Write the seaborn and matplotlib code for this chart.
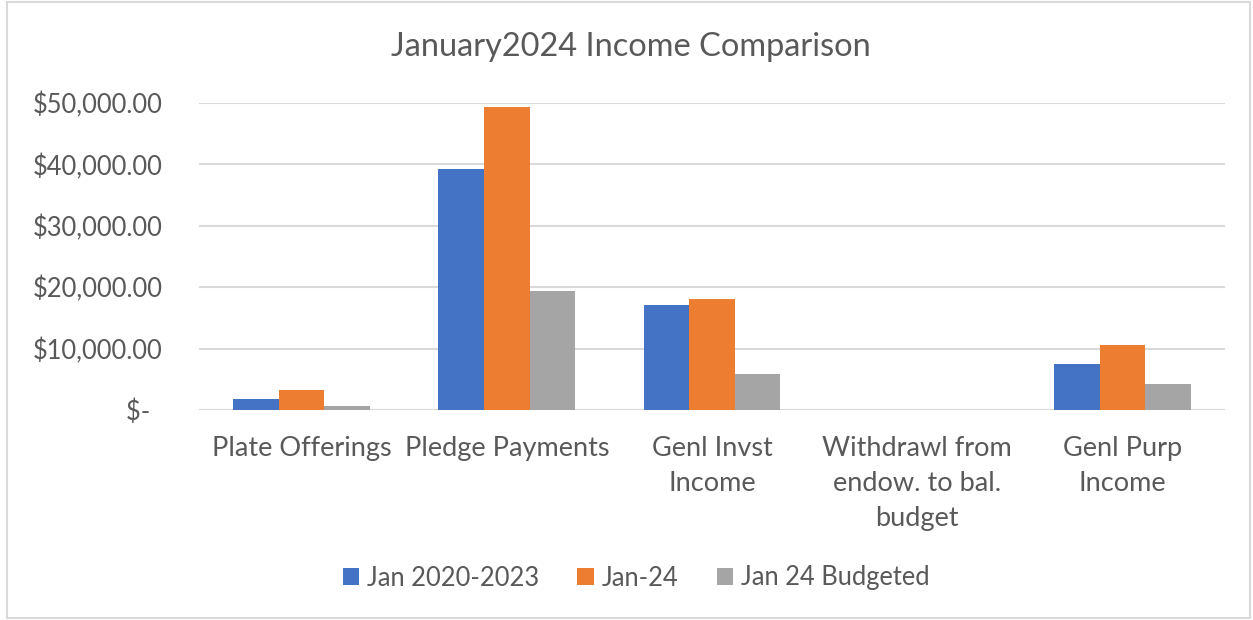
import matplotlib
matplotlib.use("Agg")
import matplotlib.pyplot as plt
import seaborn as sns
import pandas as pd
from matplotlib.patches import Rectangle, Patch

categories = ["Plate Offerings", "Pledge Payments", "Genl Invst\nIncome",
              "Withdrawl from\nendow. to bal.\nbudget", "Genl Purp\nIncome"]
series_names = ["Jan 2020-2023", "Jan-24", "Jan 24 Budgeted"]
jan_2020_2023 = [1790, 39200, 17070, 0, 7500]
jan_24 = [3200, 49350, 18050, 0, 10550]
jan_24_budgeted = [710, 19330, 5930, 0, 4300]
ytick_values = [0, 10000, 20000, 30000, 40000, 50000]
ytick_labels = ["$-  ", "$10,000.00", "$20,000.00", "$30,000.00", "$40,000.00", "$50,000.00"]
title = "January2024 Income Comparison"
colors = ["#4472C4", "#ED7D31", "#A5A5A5"]

rows = []
for name, vals in zip(series_names, [jan_2020_2023, jan_24, jan_24_budgeted]):
    for c, v in zip(categories, vals):
        rows.append({"category": c, "series": name, "value": v})
df = pd.DataFrame(rows)

sns.set_theme(style="white")
plt.rcParams["font.family"] = ["Lato", "DejaVu Sans"]
text_color = "#595959"

W, H = 1253, 620
fig = plt.figure(figsize=(W / 100, H / 100), dpi=100)
ax = fig.add_axes([199 / W, 1 - 410 / H, (1225 - 199) / W, (410 - 103) / H])

sns.barplot(data=df, x="category", y="value", hue="series", order=categories,
            hue_order=series_names, palette=colors, width=0.667, gap=0,
            linewidth=0, saturation=1, ax=ax, legend=False, zorder=3)

ax.set_ylim(0, 50000)
ax.set_xlim(-0.5, len(categories) - 0.5)
ax.set_yticks(ytick_values)
ax.set_yticklabels(ytick_labels)
ax.yaxis.grid(True, color="#D9D9D9", linewidth=1.5, zorder=0)
ax.xaxis.grid(False)
ax.set_axisbelow(True)
for s in ax.spines.values():
    s.set_visible(False)
ax.set_xlabel("")
ax.set_ylabel("")
ax.tick_params(axis="y", length=0, pad=26, labelsize=18.4, labelcolor=text_color)
ax.tick_params(axis="x", length=0, pad=19, labelsize=19.5, labelcolor=text_color)
for lbl in ax.get_xticklabels():
    lbl.set_linespacing(1.5)
    lbl.set_verticalalignment("top")

fig.text(631 / W, 1 - 47 / H, title, ha="center", va="center",
         fontsize=23.4, color=text_color)

handles = [Patch(facecolor=c, edgecolor="none") for c in colors]
fig.legend(handles, series_names, loc="center", bbox_to_anchor=(636 / W, 1 - 578 / H),
           ncol=3, frameon=False, fontsize=18.4, handlelength=0.65, handleheight=0.65,
           handletextpad=0.3, columnspacing=1.5, labelcolor=text_color)

fig.patches.append(Rectangle((7 / W, 2 / H), (1250 - 7) / W, (618 - 2) / H,
                             transform=fig.transFigure, fill=False,
                             edgecolor="#D9D9D9", linewidth=1.5))

fig.savefig("out.png", dpi=100, facecolor="white")
